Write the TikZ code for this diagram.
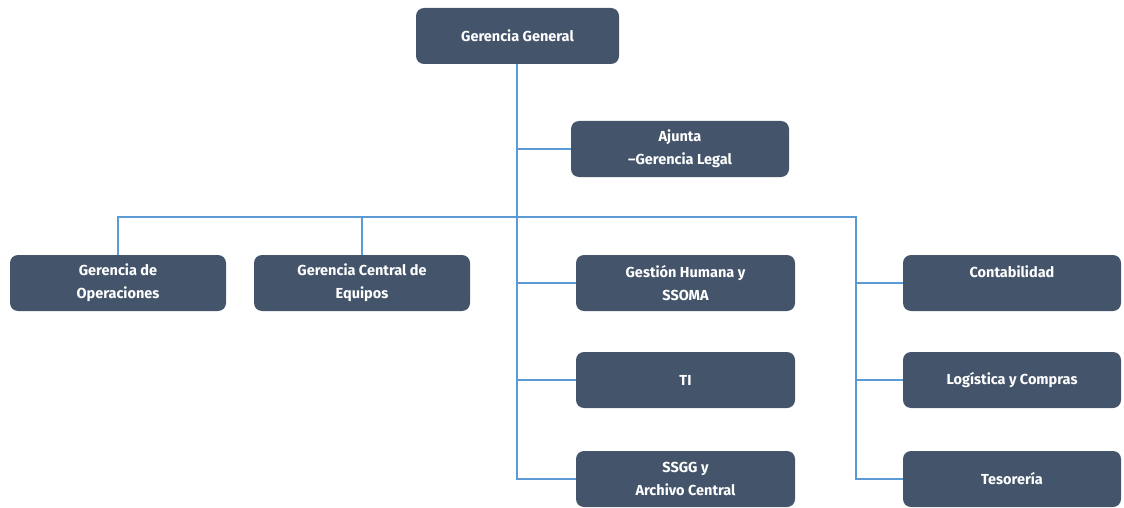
\documentclass[tikz,border=0pt]{standalone}
\usepackage{fontspec}
\setmainfont{Fira Sans}
\begin{document}
\begin{tikzpicture}[x=1pt,y=-1pt,
  box/.style={draw=none,fill=boxfill,rounded corners=8pt,minimum width=216pt,minimum height=56pt,
    text=white,align=center,font=\bfseries\fontsize{14.5}{23}\selectfont,inner sep=2pt},
  conn/.style={draw=linecol,line width=1.3pt}]
\definecolor{boxfill}{HTML}{44546A}
\definecolor{linecol}{HTML}{5B9BD5}
\useasboundingbox (0,0) rectangle (1124,508);
\node[box,minimum width=203pt] (gg) at (517.5,36) {Gerencia General};
\node[box,minimum width=218pt] (aj) at (680,149) {Ajunta\\–Gerencia Legal};
\node[box] (op) at (118,283) {Gerencia de\\Operaciones};
\node[box] (gce) at (362,283) {Gerencia Central de\\Equipos};
\node[box,minimum width=219pt] (gh) at (685.5,283) {Gestión Humana y\\SSOMA};
\node[box,minimum width=219pt] (ti) at (685.5,380) {TI};
\node[box,minimum width=219pt] (ss) at (685.5,479) {SSGG y\\Archivo Central};
\node[box,minimum width=218pt] (co) at (1012,283) {Contabilidad\\\phantom{X}};
\node[box,minimum width=218pt] (lc) at (1012,380) {Logística y Compras};
\node[box,minimum width=218pt] (te) at (1012,479) {Tesorería};
\coordinate (bus) at (517,217);
\coordinate (rb) at (856,217);
\draw[conn] (gg.south -| bus) -- (bus |- ss.west) -- (ss.west);
\draw[conn] (bus |- aj.west) -- (aj.west);
\draw[conn] (bus |- gh.west) -- (gh.west);
\draw[conn] (bus |- ti.west) -- (ti.west);
\draw[conn] (op.north) -- (op.north |- bus) -- (rb) -- (rb |- te.west) -- (te.west);
\draw[conn] (gce.north) -- (gce.north |- bus);
\draw[conn] (rb |- co.west) -- (co.west);
\draw[conn] (rb |- lc.west) -- (lc.west);
\end{tikzpicture}
\end{document}
